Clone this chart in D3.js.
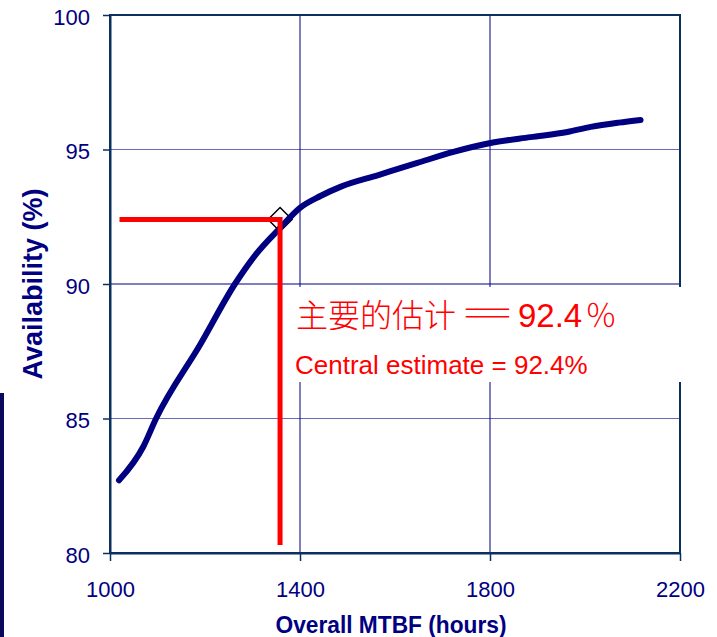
<!DOCTYPE html>
<html>
<head>
<meta charset="utf-8">
<script src="https://cdn.jsdelivr.net/npm/d3@7/dist/d3.min.js"></script>
<style>
  html, body { margin: 0; padding: 0; background: #ffffff; }
  svg { display: block; }
</style>
</head>
<body>
<svg id="chart" width="717" height="637"></svg>
<script>
// Availability as a function of overall MTBF
const mtbfHours = [1019, 1070, 1097, 1190, 1263, 1308, 1358, 1400, 1443, 1485, 1565, 1647, 1723, 1801, 1885, 1963, 2012, 2071, 2117];
const availabilityPct = [82.7, 83.95, 85.0, 87.75, 90.0, 91.12, 92.08, 92.83, 93.27, 93.61, 94.05, 94.5, 94.91, 95.24, 95.46, 95.65, 95.84, 96.0, 96.1];

// Axis ticks
const xTicks = [1000, 1400, 1800, 2200];
const yTicks = [80, 85, 90, 95, 100];
const xGrid = [1400, 1800];
const yGrid = [85, 90, 95];

// Central estimate
const estimateMtbf = 1358;
const estimateAvailability = 92.4;
const guideStartMtbf = 1020;
const guideEndAvailability = 80.3;

const svg = d3.select("#chart");
const x = d3.scaleLinear().domain([1000, 2200]).range([110, 680]);
const y = d3.scaleLinear().domain([80, 100]).range([553, 15]);

const axisColor = "#0b3060";
const navy = "#000080";
const tickFont = "'Liberation Sans', Arial, sans-serif";

// decorative bar on the left edge
svg.append("rect").attr("x", 0).attr("y", 393).attr("width", 4).attr("height", 244).attr("fill", "#0a0a5c");

// gridlines
svg.append("g").selectAll("line").data(yGrid).join("line")
  .attr("x1", x(1000)).attr("x2", x(2200))
  .attr("y1", d => y(d)).attr("y2", d => y(d))
  .attr("stroke", d => d === 90 ? navy : "#6a6ab8").attr("stroke-width", 1.2);
svg.append("g").selectAll("line").data(xGrid).join("line")
  .attr("x1", d => x(d)).attr("x2", d => x(d))
  .attr("y1", y(80)).attr("y2", y(100))
  .attr("stroke", navy).attr("stroke-width", 1);

// plot frame
svg.append("rect")
  .attr("x", x(1000)).attr("y", y(100))
  .attr("width", x(2200) - x(1000)).attr("height", y(80) - y(100))
  .attr("fill", "none").attr("stroke", axisColor).attr("stroke-width", 2);

// axes
const yAxis = svg.append("g").attr("transform", `translate(${x(1000)},0)`)
  .call(d3.axisLeft(y).tickValues(yTicks).tickSize(7).tickSizeOuter(0).tickPadding(13));
const xAxis = svg.append("g").attr("transform", `translate(0,${y(80)})`)
  .call(d3.axisBottom(x).tickValues(xTicks).tickSize(8).tickSizeOuter(0).tickPadding(20).tickFormat(d3.format("d")));
[yAxis, xAxis].forEach(g => {
  g.select(".domain").attr("stroke", axisColor).attr("stroke-width", 2);
  g.selectAll(".tick line").attr("stroke", axisColor).attr("stroke-width", 1.5);
  g.selectAll(".tick text").attr("fill", navy).attr("font-family", tickFont).attr("font-size", 22);
});
yAxis.selectAll(".tick text").attr("dy", "0.42em");

// axis titles
svg.append("text")
  .attr("x", 391).attr("y", 633)
  .attr("text-anchor", "middle")
  .attr("font-family", tickFont).attr("font-weight", "bold").attr("font-size", 23.5)
  .attr("textLength", 231).attr("lengthAdjust", "spacingAndGlyphs")
  .attr("fill", navy)
  .text("Overall MTBF (hours)");
svg.append("text")
  .attr("transform", `translate(42,${(y(80) + y(100)) / 2}) rotate(-90)`)
  .attr("text-anchor", "middle")
  .attr("font-family", tickFont).attr("font-weight", "bold").attr("font-size", 27)
  .attr("textLength", 191).attr("lengthAdjust", "spacingAndGlyphs")
  .attr("fill", navy)
  .text("Availability (%)");

// estimate marker (drawn beneath the curve)
const ex = x(estimateMtbf), ey = y(estimateAvailability), r = 12;
svg.append("path")
  .attr("d", `M${ex},${ey - r}L${ex + r},${ey}L${ex},${ey + r}L${ex - r},${ey}Z`)
  .attr("fill", "none").attr("stroke", "#000000").attr("stroke-width", 1.5);

// availability curve
const line = d3.line()
  .x((d, i) => x(mtbfHours[i]))
  .y(d => y(d))
  .curve(d3.curveMonotoneX);
svg.append("path")
  .datum(availabilityPct)
  .attr("d", line)
  .attr("fill", "none")
  .attr("stroke", navy)
  .attr("stroke-width", 6)
  .attr("stroke-linecap", "round")
  .attr("stroke-linejoin", "round");

// label backdrop
svg.append("rect").attr("x", 284).attr("y", 287).attr("width", 420).attr("height", 95).attr("fill", "#ffffff");

// estimate guide lines
svg.append("path")
  .attr("d", `M${x(guideStartMtbf)},${ey}H${ex}V${y(guideEndAvailability)}`)
  .attr("fill", "none").attr("stroke", "#ff0000").attr("stroke-width", 5)
  .attr("stroke-linejoin", "miter");

// estimate labels
const cjkFont = "'Noto Sans CJK SC', sans-serif";
const label = svg.append("text").attr("y", 327).attr("fill", "#ff0000").attr("font-size", 32);
label.append("tspan").attr("x", 296).attr("font-family", cjkFont).attr("font-weight", 300).text("主要的估计");
svg.append("text")
  .attr("x", 458).attr("y", 325).attr("fill", "#ff0000")
  .attr("font-family", cjkFont).attr("font-weight", 300).attr("font-size", 32)
  .attr("textLength", 59).attr("lengthAdjust", "spacingAndGlyphs")
  .text("＝");
label.append("tspan").attr("x", 518).attr("font-family", tickFont).attr("font-size", 33).text(`${estimateAvailability}`);
label.append("tspan").attr("x", 585).attr("font-family", cjkFont).attr("font-weight", 300).text("％");

svg.append("text")
  .attr("x", 295).attr("y", 374)
  .attr("fill", "#ff0000")
  .attr("font-family", tickFont).attr("font-size", 26)
  .text(`Central estimate = ${estimateAvailability}%`);
</script>
</body>
</html>
